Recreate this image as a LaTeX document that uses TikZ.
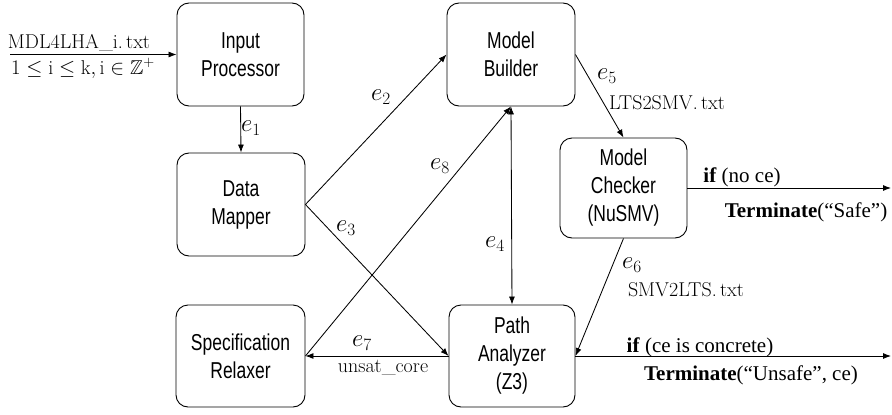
\documentclass[tikz,border=0pt]{standalone}
\usepackage{amssymb}
\usepackage{fontspec}
\usetikzlibrary{arrows.meta}
\newfontfamily\tnr{Liberation Serif}
\newfontfamily\boxfont[FakeStretch=0.76]{Liberation Sans}
\tikzset{
  block/.style={draw, rounded corners=12pt, line width=0.9pt, align=center,
    font=\boxfont\fontsize{23}{28}\selectfont, inner sep=0pt},
  flow/.style={line width=0.85pt, -{Latex[length=8pt,width=6pt]}},
  both/.style={line width=0.85pt, {Latex[length=8pt,width=6pt]}-{Latex[length=8pt,width=6pt]}},
  elabel/.style={font=\fontsize{23}{26}\selectfont, inner sep=0pt},
  txtlabel/.style={font=\fontsize{20}{23}\selectfont, inner sep=0pt},
  termlabel/.style={font=\tnr\fontsize{21}{24}\selectfont, inner sep=0pt}
}
\begin{document}
\begin{tikzpicture}[x=1pt, y=-1pt]
  \useasboundingbox (0,0) rectangle (892,415);

  % processing blocks
  \node[block, minimum width=127pt, minimum height=103pt] (ip) at (240.5,54.5) {Input\\Processor};
  \node[block, minimum width=128pt, minimum height=103pt] (mb) at (511,54.5) {Model\\Builder};
  \node[block, minimum width=128pt, minimum height=103pt] (dm) at (241,204.5) {Data\\Mapper};
  \node[block, minimum width=127pt, minimum height=100pt] (mc) at (623.5,188) {Model\\Checker\\(NuSMV)};
  \node[block, minimum width=129pt, minimum height=102pt] (sr) at (240.5,356) {Specification\\Relaxer};
  \node[block, minimum width=126pt, minimum height=102pt] (pa) at (512,356) {Path\\Analyzer\\(Z3)};

  % free ends
  \coordinate (in) at (10,54.5);
  \coordinate (safe) at (891,188);
  \coordinate (unsafe) at (891,356);

  % connectors
  \draw[flow] (in) -- (ip.west);
  \draw[flow] (ip.south) -- (dm.north);
  \draw[flow] (dm.east) -- (mb.west);
  \draw[flow] (dm.east) -- (pa.west);
  \draw[flow] (sr.east) -- (mb.south);
  \draw[both] (mb.south) -- (pa.north);
  \draw[flow] (mb.east) -- (mc.north);
  \draw[flow] (mc.south) -- (pa.east);
  \draw[flow] (pa.west) -- (sr.east);
  \draw[flow] (mc.east) -- (safe);
  \draw[flow] (pa.east) -- (unsafe);

  % labels
  \node[txtlabel, anchor=base] (l0a) at (79,48) {MDL4LHA\_i.\,txt};
  \node[txtlabel, anchor=north] (l0b) at (83,58) {$1 \le \mathrm{i} \le \mathrm{k}, \mathrm{i} \in \mathbb{Z}^{+}$};
  \node[elabel] (l1) at (251,128) {$e_1$};
  \node[elabel] (l2) at (381,97) {$e_2$};
  \node[elabel] (l3) at (346,228) {$e_3$};
  \node[elabel] (l4) at (495,244) {$e_4$};
  \node[elabel] (l5) at (607,76) {$e_5$};
  \node[txtlabel] (l5b) at (667,103) {LTS2SMV.\,txt};
  \node[elabel] (l6) at (632,265) {$e_6$};
  \node[txtlabel] (l6b) at (686,290) {SMV2LTS.\,txt};
  \node[elabel] (l7) at (362,343) {$e_7$};
  \node[txtlabel] (l7b) at (383,368) {unsat\_core};
  \node[elabel] (l8) at (440,166) {$e_8$};
  \node[termlabel] (s1) at (742,177) {\textbf{if} (no ce)};
  \node[termlabel] (s2) at (806,212) {\textbf{Terminate}(“Safe”)};
  \node[termlabel] (u1) at (700,347) {\textbf{if} (ce is concrete)};
  \node[termlabel] (u2) at (751,375) {\textbf{Terminate}(“Unsafe”, ce)};
\end{tikzpicture}
\end{document}
